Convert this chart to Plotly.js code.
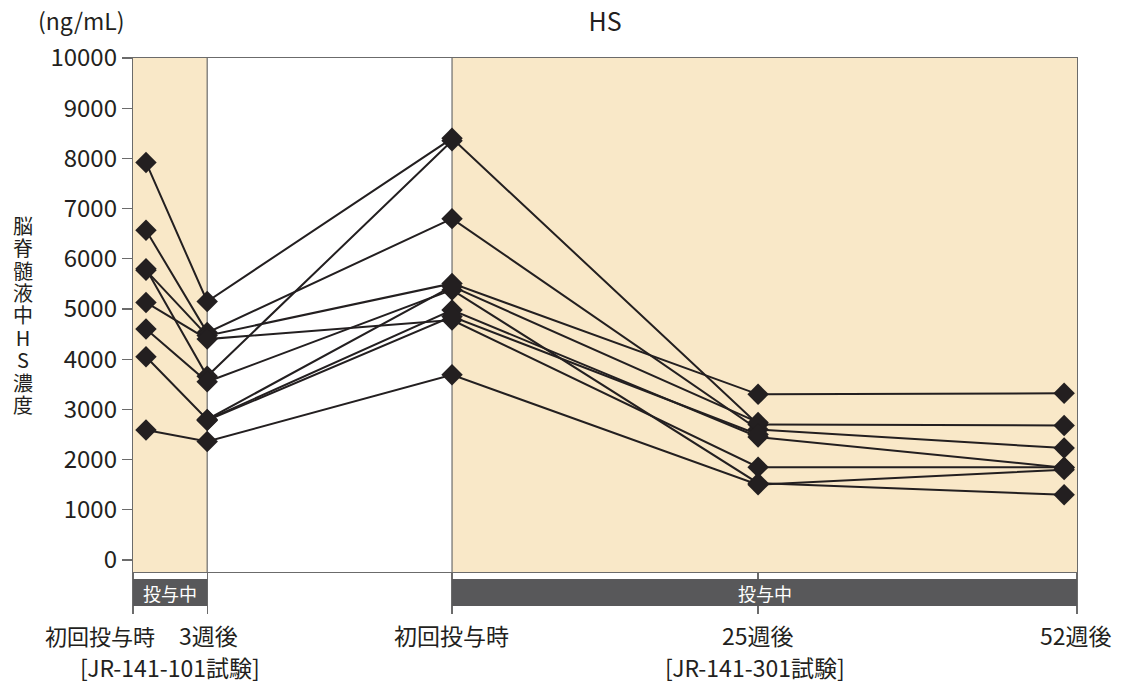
<!DOCTYPE html>
<html><head><meta charset="utf-8">
<script src="https://cdn.plot.ly/plotly-3.0.1.min.js"></script>
<style>html,body{margin:0;padding:0;background:#fff}</style>
</head><body><div id="chart" style="width:1124px;height:686px"></div>
<script>
// ---- text ----
const chartTitle = 'HS';
const unitLabel = '(ng/mL)';
const yAxisTitle = '脳脊髄液中HS濃度';
const timepointLabels = ['初回投与時', '3週後', '初回投与時', '25週後', '52週後'];
const studyLabels = ['[JR-141-101試験]', '[JR-141-301試験]'];
const dosingLabel = '投与中';
const yTickValues = [0, 1000, 2000, 3000, 4000, 5000, 6000, 7000, 8000, 9000, 10000];

// ---- data: CSF HS (ng/mL) per patient at [101 baseline, 101 wk3, 301 baseline, 301 wk25, 301 wk52] ----
const patient01 = [7920, 5150, 8400, 2700, 2680];
const patient02 = [5800, 3660, 8350, null, null];
const patient03 = [6570, 4530, 6800, 2600, 2230];
const patient04 = [5770, 4470, 5510, 3300, 3320];
const patient05 = [5130, 4400, 4780, 1850, 1850];
const patient06 = [4600, 3550, 5380, 1530, 1300];
const patient07 = [4050, 2800, 5450, 2740, null];
const patient08 = [null, 2790, 4980, 2450, 1840];
const patient09 = [null, 2780, 4850, 2500, null];
const patient10 = [2590, 2360, 3690, 1500, 1800];
const patients = [patient01, patient02, patient03, patient04, patient05,
                  patient06, patient07, patient08, patient09, patient10];

// ---- layout geometry ----
const timeX = [0, 1, 5, 10, 15];
const xMin = -0.212, xMax = 15.21;
const tickX = [xMin, 1, 5, 10, xMax];
const labelPx = [100, 208, 451, 758, 1076];
const studyLabelPx = [170, 755];
const W = 1124, H = 686, mL = 133, mR = 47, mT = 58, mB = 114;
const plotH = H - mT - mB;
const pyPaper = px => (H - mB - px) / plotH;
const pxPaper = px => (px - mL) / (W - mL - mR);

const FONT = '"Noto Sans CJK JP", "Noto Sans", sans-serif';
const INK = '#231f20';
const SHADE = '#f9e8c8';
const FRAME = '#6b6b6b';
const BAR = '#58585a';

const traces = patients.map(p => ({
  type: 'scatter', mode: 'lines+markers',
  x: timeX, y: p, connectgaps: false,
  line: {color: INK, width: 2},
  marker: {symbol: 'diamond', size: 16.5, color: INK},
  showlegend: false, hoverinfo: 'y'
}));

const shapes = [
  {type: 'rect', xref: 'x', yref: 'paper', x0: xMin, x1: 1, y0: 0, y1: 1, fillcolor: SHADE, line: {width: 0}, layer: 'below'},
  {type: 'rect', xref: 'x', yref: 'paper', x0: 5, x1: xMax, y0: 0, y1: 1, fillcolor: SHADE, line: {width: 0}, layer: 'below'},
  {type: 'line', xref: 'x', yref: 'paper', x0: 1, x1: 1, y0: 0, y1: 1, line: {color: FRAME, width: 1.2}, layer: 'below'},
  {type: 'line', xref: 'x', yref: 'paper', x0: 5, x1: 5, y0: 0, y1: 1, line: {color: FRAME, width: 1.2}, layer: 'below'},
  {type: 'rect', xref: 'x', yref: 'paper', x0: xMin, x1: 1, y0: pyPaper(606), y1: pyPaper(579), fillcolor: BAR, line: {width: 0}, layer: 'above'},
  {type: 'rect', xref: 'x', yref: 'paper', x0: 5, x1: xMax, y0: pyPaper(606), y1: pyPaper(579), fillcolor: BAR, line: {width: 0}, layer: 'above'}
];

const annotations = [];
timepointLabels.forEach((t, i) => annotations.push({
  text: t, xref: 'paper', yref: 'paper', x: pxPaper(labelPx[i]), y: pyPaper(635),
  xanchor: 'center', yanchor: 'middle', showarrow: false,
  font: {family: FONT, size: i === 0 ? 22 : 23, color: INK}
}));
studyLabels.forEach((t, i) => annotations.push({
  text: t, xref: 'paper', yref: 'paper', x: pxPaper(studyLabelPx[i]), y: pyPaper(667),
  xanchor: 'center', yanchor: 'middle', showarrow: false,
  font: {family: FONT, size: 23, color: INK}
}));
[[xMin, 1], [5, xMax]].forEach(r => annotations.push({
  text: dosingLabel, xref: 'x', yref: 'paper', x: (r[0] + r[1]) / 2, y: pyPaper(592.5),
  xanchor: 'center', yanchor: 'middle', showarrow: false,
  font: {family: FONT, size: 18, color: '#ffffff'}
}));
annotations.push({
  text: unitLabel, xref: 'paper', yref: 'paper', x: pxPaper(81), y: pyPaper(20),
  xanchor: 'center', yanchor: 'middle', showarrow: false,
  font: {family: FONT, size: 23, color: INK}
});
// vertical, upright stacked y-axis title (one text block, tight line pitch)
annotations.push({
  text: Array.from(yAxisTitle).map(ch => '<span style="font-size:20px">' + ch + '</span>').join('<br>'),
  xref: 'paper', yref: 'paper', x: pxPaper(23), y: pyPaper(314.6),
  xanchor: 'center', yanchor: 'middle', showarrow: false, align: 'center',
  font: {family: FONT, size: 17.2, color: INK}
});

const layout = {
  width: W, height: H,
  margin: {l: mL, r: mR, t: mT, b: mB, pad: 0},
  paper_bgcolor: '#ffffff', plot_bgcolor: '#ffffff',
  font: {family: FONT, color: INK},
  title: {text: chartTitle, font: {family: FONT, size: 25, color: INK},
          xref: 'paper', x: 0.5, xanchor: 'center', yref: 'container', y: 1 - 22 / H, yanchor: 'middle'},
  xaxis: {range: [xMin, xMax], tickvals: tickX, showticklabels: false, ticks: 'outside', ticklen: 41,
          tickcolor: FRAME, tickwidth: 1.2, showgrid: false, zeroline: false,
          showline: true, linecolor: FRAME, linewidth: 1.2, mirror: true},
  yaxis: {range: [-239, 10000], tickvals: yTickValues, ticktext: yTickValues.map(String),
          ticks: 'outside', ticklen: 10, tickcolor: FRAME, tickwidth: 1.2,
          tickfont: {family: FONT, size: 24, color: INK},
          showgrid: false, zeroline: false, showline: true, linecolor: FRAME, linewidth: 1.2, mirror: true},
  shapes: shapes,
  annotations: annotations
};

Plotly.newPlot('chart', traces, layout, {displayModeBar: false, staticPlot: true});
</script></body></html>
